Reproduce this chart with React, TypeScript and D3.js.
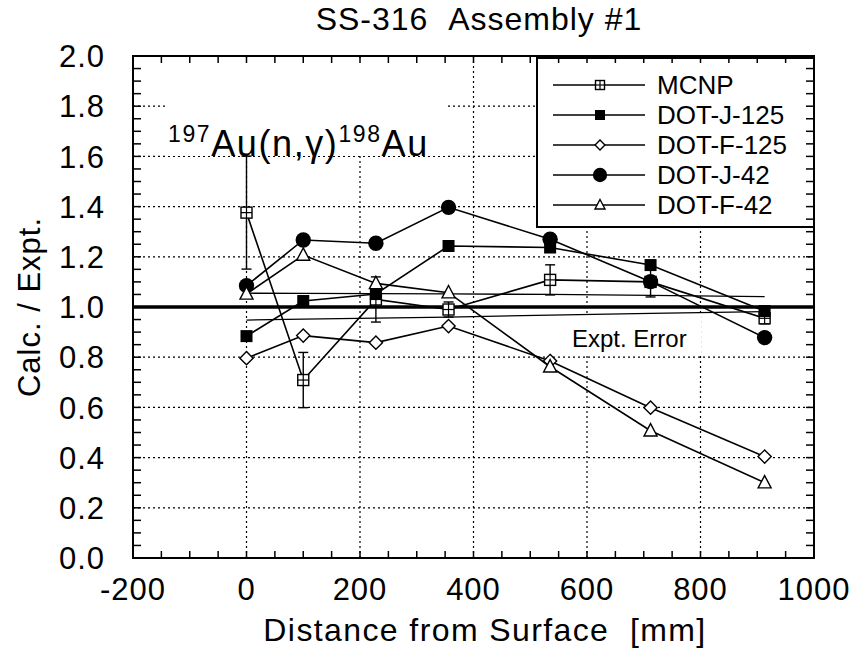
import React from "react";
import * as d3 from "d3";

const positions = [0, 100, 228, 356, 535, 712, 913];
const mcnp = [1.376, 0.709, 1.03, 0.99, 1.108, 1.1, 0.955];
const mcnpErr = [0.225, 0.11, 0.09, 0.03, 0.06, 0.06, 0.022];
const dotJ125 = [0.884, 1.024, 1.052, 1.243, 1.237, 1.167, 0.984];
const dotF125 = [0.796, 0.886, 0.858, 0.924, 0.785, 0.599, 0.404];
const dotJ42 = [1.085, 1.267, 1.254, 1.397, 1.27, 1.101, 0.878];
const dotF42 = [1.052, 1.207, 1.094, 1.057, 0.762, 0.507, 0.3];
const exptUpper = [1.055, 1.054, 1.053, 1.052, 1.05, 1.046, 1.041];
const exptLower = [0.948, 0.952, 0.956, 0.96, 0.968, 0.975, 0.982];

const seriesNames = ["MCNP", "DOT-J-125", "DOT-F-125", "DOT-J-42", "DOT-F-42"];
const seriesMarkers = ["sqcross", "sqfill", "diamond", "circle", "triangle"];
const seriesValues = [mcnp, dotJ125, dotF125, dotJ42, dotF42];

const xTicks = [-200, 0, 200, 400, 600, 800, 1000];
const yTicks = [0, 0.2, 0.4, 0.6, 0.8, 1.0, 1.2, 1.4, 1.6, 1.8, 2.0];

const FONT = "'Liberation Sans', Arial, Helvetica, sans-serif";

function Marker({ type, cx, cy, s }: { type: string; cx: number; cy: number; s: number }) {
  const h = s / 2;
  switch (type) {
    case "sqcross":
      return (
        <g>
          <rect x={cx - h} y={cy - h} width={s} height={s} fill="white" stroke="black" strokeWidth={1.4} />
          <line x1={cx - h} x2={cx + h} y1={cy} y2={cy} stroke="black" strokeWidth={1.2} />
          <line x1={cx} x2={cx} y1={cy - h} y2={cy + h} stroke="black" strokeWidth={1.2} />
        </g>
      );
    case "sqfill":
      return <rect x={cx - h} y={cy - h} width={s} height={s} fill="black" />;
    case "diamond":
      return (
        <polygon
          points={`${cx},${cy - h * 1.1} ${cx + h * 1.1},${cy} ${cx},${cy + h * 1.1} ${cx - h * 1.1},${cy}`}
          fill="white"
          stroke="black"
          strokeWidth={1.4}
        />
      );
    case "circle":
      return <circle cx={cx} cy={cy} r={h * 1.1} fill="black" />;
    case "triangle":
      return (
        <polygon
          points={`${cx},${cy - h * 1.1} ${cx + h},${cy + h * 0.8} ${cx - h},${cy + h * 0.8}`}
          fill="white"
          stroke="black"
          strokeWidth={1.4}
        />
      );
    default:
      return null;
  }
}

export default function App() {
  const W = 855;
  const H = 651;
  const x = d3.scaleLinear().domain([-200, 1000]).range([133, 814]);
  const y = d3.scaleLinear().domain([0, 2]).range([558, 56]);
  const [x0, x1] = x.range();
  const [y0, y1] = y.range();

  const line = d3
    .line<[number, number]>()
    .x((d) => x(d[0]))
    .y((d) => y(d[1]));

  const xMinor = d3.range(-200, 1001, 50);
  const yMinor = d3.range(0, 2.0001, 0.05);

  const markerSizes = [11, 12, 12, 14, 13];
  const legendSizes = [9, 10, 9, 13, 10];

  return (
    <svg
      width={W}
      height={H}
      style={{ position: "absolute", left: 0, top: 0, background: "white" }}
      fontFamily={FONT}
    >
      <rect x={0} y={0} width={W} height={H} fill="white" />
      {/* title */}
      <text x={479} y={30} fontSize={32} textAnchor="middle" letterSpacing={1}>
        SS-316{"\u00a0\u00a0"}Assembly #1
      </text>

      {/* gridlines */}
      <g stroke="black" strokeWidth={1.2} strokeDasharray="2,3">
        {xTicks
          .filter((t) => t > -200 && t < 1000)
          .map((t) => (
            <line key={"gx" + t} x1={x(t)} x2={x(t)} y1={y1} y2={y0} />
          ))}
        {yTicks
          .filter((t) => t > 0 && t < 2 && t !== 1)
          .map((t) => (
            <line key={"gy" + t} x1={x0} x2={x1} y1={y(t)} y2={y(t)} />
          ))}
      </g>

      {/* label backgrounds hiding grid */}
      <rect x={166} y={y1 + 2} width={279} height={98} fill="white" />
      <rect x={566} y={313} width={135} height={43} fill="white" />

      {/* unity line */}
      <line x1={x0} x2={x1} y1={y(1)} y2={y(1)} stroke="black" strokeWidth={3.5} />

      {/* experimental error band */}
      <path
        d={line(positions.map((p, i) => [p, exptUpper[i]] as [number, number])) || ""}
        fill="none"
        stroke="black"
        strokeWidth={1.3}
      />
      <path
        d={line(positions.map((p, i) => [p, exptLower[i]] as [number, number])) || ""}
        fill="none"
        stroke="black"
        strokeWidth={1.3}
      />
      <text x={572} y={347} fontSize={24}>
        Expt. Error
      </text>

      {/* MCNP error bars */}
      <g stroke="black" strokeWidth={1.4}>
        {positions.map((p, i) => {
          const cx = x(p);
          const top = y(mcnp[i] + mcnpErr[i]);
          const bot = y(mcnp[i] - mcnpErr[i]);
          return (
            <g key={"eb" + i}>
              <line x1={cx} x2={cx} y1={top} y2={bot} />
              <line x1={cx - 5} x2={cx + 5} y1={top} y2={top} />
              <line x1={cx - 5} x2={cx + 5} y1={bot} y2={bot} />
            </g>
          );
        })}
      </g>

      {/* series */}
      {seriesValues.map((vals, si) => (
        <g key={"s" + si}>
          <path
            d={line(positions.map((p, i) => [p, vals[i]] as [number, number])) || ""}
            fill="none"
            stroke="black"
            strokeWidth={1.6}
          />
          {positions.map((p, i) => (
            <Marker key={i} type={seriesMarkers[si]} cx={x(p)} cy={y(vals[i])} s={markerSizes[si]} />
          ))}
        </g>
      ))}

      {/* annotation */}
      <text x={168} y={156} fontSize={36} letterSpacing={1.6}>
        <tspan fontSize={23} dy={-14}>197</tspan>
        <tspan dy={14}>Au(n,γ)</tspan>
        <tspan fontSize={23} dy={-14}>198</tspan>
        <tspan dy={14}>Au</tspan>
      </text>

      {/* legend */}
      <rect x={537} y={58} width={277} height={169} fill="white" stroke="black" strokeWidth={2} />
      {seriesNames.map((name, i) => {
        const ly = 85 + i * 30;
        return (
          <g key={"lg" + i}>
            <line x1={553} x2={645} y1={ly} y2={ly} stroke="black" strokeWidth={1.5} />
            <Marker type={seriesMarkers[i]} cx={600} cy={ly} s={legendSizes[i]} />
            <text x={657} y={ly} dy="0.36em" fontSize={26}>
              {name}
            </text>
          </g>
        );
      })}

      {/* frame */}
      <rect x={x0} y={y1} width={x1 - x0} height={y0 - y1} fill="none" stroke="black" strokeWidth={2} />

      {/* ticks */}
      <g stroke="black" strokeWidth={1.5}>
        {xMinor.map((t) => (
          <g key={"tx" + t}>
            <line x1={x(t)} x2={x(t)} y1={y0} y2={y0 - 7} />
            <line x1={x(t)} x2={x(t)} y1={y1} y2={y1 + 7} />
          </g>
        ))}
        {yMinor.map((t) => (
          <g key={"ty" + t.toFixed(2)}>
            <line x1={x0} x2={x0 + 8} y1={y(t)} y2={y(t)} />
            <line x1={x1} x2={x1 - 8} y1={y(t)} y2={y(t)} />
          </g>
        ))}
      </g>

      {/* tick labels */}
      {xTicks.map((t) => (
        <text key={"lx" + t} x={x(t)} y={600} fontSize={31} textAnchor="middle" letterSpacing={1}>
          {t}
        </text>
      ))}
      {yTicks.map((t) => (
        <text key={"ly" + t} x={105} y={y(t)} dy="0.36em" fontSize={31} textAnchor="end" letterSpacing={1}>
          {t.toFixed(1)}
        </text>
      ))}

      {/* axis titles */}
      <text x={485} y={641} fontSize={32} textAnchor="middle" letterSpacing={1.4}>
        Distance from Surface{"\u00a0\u00a0"}[mm]
      </text>
      <text transform={`translate(40, 307) rotate(-90)`} fontSize={31} textAnchor="middle" letterSpacing={1}>
        Calc. / Expt.
      </text>
    </svg>
  );
}
